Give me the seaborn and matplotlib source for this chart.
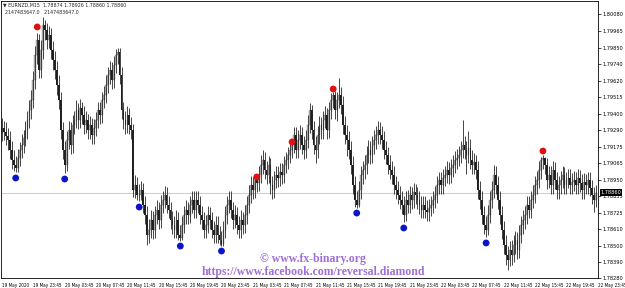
import numpy as np
import pandas as pd
import matplotlib
matplotlib.use("Agg")
import matplotlib.pyplot as plt
import seaborn as sns

# EURNZD M15 candles, prices in points (0.00001) above 1.78000
base = 1.78

open_pts = [
    1270, 1302, 1275, 1248, 1220, 1152, 1084, 1050, 1029, 1097,
    1152, 1186, 1234, 1288, 1357, 1425, 1493, 1629, 1800, 1902,
    1698, 1834, 2004, 1970, 1902, 1936, 1834, 1766, 1698, 1595,
    1493, 1288, 1152, 1050, 1220, 1288, 1186, 1323, 1357, 1425,
    1357, 1438, 1391, 1323, 1357, 1288, 1323, 1254, 1302, 1357,
    1425, 1391, 1493, 1527, 1595, 1664, 1698, 1629, 1732, 1800,
    1820, 1664, 1425, 1357, 1323, 1391, 1323, 1288, 879, 913,
    845, 845, 879, 777, 709, 572, 606, 675, 606, 709,
    743, 675, 777, 811, 845, 777, 743, 675, 641, 606,
    675, 572, 552, 641, 709, 743, 709, 777, 811, 743,
    811, 777, 709, 675, 606, 641, 709, 675, 606, 572,
    641, 572, 538, 511, 606, 709, 777, 811, 743, 675,
    709, 641, 606, 675, 641, 709, 777, 845, 913, 879,
    947, 927, 982, 1050, 1084, 1016, 982, 1050, 913, 879,
    947, 982, 961, 1002, 982, 1050, 1084, 1118, 1152, 1186,
    1254, 1152, 1220, 1254, 1186, 1152, 1220, 1323, 1425, 1288,
    1186, 1152, 1254, 1323, 1288, 1357, 1391, 1288, 1425, 1493,
    1527, 1425, 1493, 1527, 1459, 1323, 1254, 1220, 1152, 1050,
    913, 811, 777, 879, 982, 1016, 1050, 1118, 1152, 1118,
    1186, 1220, 1254, 1288, 1254, 1220, 1152, 1118, 1050, 1016,
    982, 913, 879, 845, 811, 777, 709, 811, 777, 845,
    811, 866, 845, 811, 777, 743, 777, 743, 729, 757,
    777, 811, 845, 913, 947, 913, 961, 982, 1016, 982,
    1029, 1050, 1084, 1097, 1118, 1152, 1186, 1152, 1118, 1166,
    1084, 1050, 1070, 1016, 879, 811, 709, 641, 606, 709,
    811, 879, 982, 913, 811, 709, 606, 504, 436, 402,
    470, 436, 504, 538, 470, 572, 641, 675, 709, 777,
    743, 811, 845, 913, 947, 1016, 1084, 1097, 1050, 947,
    982, 913, 1016, 947, 879, 913, 947, 982, 913, 947,
    961, 913, 934, 947, 913, 961, 927, 879, 934, 913,
    947, 893, 845, 811,
]
high_pts = [
    1370, 1350, 1340, 1300, 1280, 1215, 1150, 1110, 1160, 1205,
    1260, 1290, 1350, 1420, 1495, 1560, 1690, 1860, 1950, 1940,
    1900, 2059, 2040, 2020, 2000, 1985, 1895, 1830, 1760, 1660,
    1550, 1345, 1210, 1280, 1350, 1340, 1390, 1420, 1490, 1470,
    1500, 1480, 1450, 1420, 1400, 1385, 1370, 1365, 1410, 1480,
    1480, 1550, 1590, 1660, 1720, 1760, 1750, 1790, 1840, 1848,
    1845, 1720, 1480, 1420, 1450, 1440, 1380, 1330, 980, 970,
    920, 940, 930, 840, 770, 680, 740, 735, 770, 810,
    800, 845, 870, 905, 900, 840, 800, 735, 700, 740,
    730, 640, 700, 770, 810, 800, 840, 875, 870, 875,
    870, 835, 770, 730, 710, 770, 765, 730, 670, 700,
    700, 635, 600, 670, 770, 840, 875, 870, 800, 775,
    765, 705, 740, 730, 775, 835, 910, 975, 970, 985,
    962, 1045, 1115, 1150, 1140, 1080, 1110, 1100, 975, 1010,
    1045, 1040, 1065, 1060, 1110, 1140, 1170, 1195, 1200, 1310,
    1310, 1285, 1320, 1310, 1250, 1290, 1390, 1473, 1460, 1350,
    1250, 1315, 1385, 1380, 1420, 1450, 1440, 1480, 1540, 1548,
    1555, 1550, 1643, 1580, 1520, 1385, 1320, 1280, 1215, 1110,
    975, 870, 940, 1045, 1080, 1115, 1180, 1220, 1215, 1250,
    1285, 1315, 1350, 1345, 1315, 1280, 1215, 1175, 1115, 1080,
    1040, 975, 940, 905, 870, 835, 870, 880, 905, 900,
    925, 920, 900, 870, 840, 840, 835, 810, 820, 840,
    870, 905, 975, 1005, 1000, 1025, 1045, 1075, 1070, 1090,
    1115, 1145, 1160, 1180, 1210, 1357, 1250, 1210, 1280, 1225,
    1150, 1130, 1120, 1075, 940, 870, 770, 700, 775, 870,
    940, 1050, 1040, 975, 870, 770, 670, 570, 500, 530,
    535, 570, 600, 595, 640, 705, 740, 770, 840, 835,
    875, 910, 975, 1010, 1080, 1105, 1115, 1105, 1100, 1045,
    1040, 1080, 1070, 1005, 975, 1010, 1040, 1035, 1005, 1020,
    1020, 995, 1010, 1005, 1020, 1015, 985, 995, 990, 1005,
    1000, 950, 900, 915,
]
low_pts = [
    1210, 1220, 1185, 1150, 1090, 1020, 1010, 1002, 1005, 1040,
    1095, 1130, 1180, 1230, 1300, 1365, 1440, 1570, 1740, 1640,
    1645, 1775, 1900, 1840, 1845, 1775, 1700, 1635, 1530, 1430,
    1225, 1090, 995, 1010, 1160, 1125, 1130, 1260, 1300, 1295,
    1300, 1330, 1260, 1265, 1225, 1230, 1190, 1195, 1245, 1300,
    1330, 1335, 1435, 1470, 1540, 1605, 1570, 1575, 1675, 1740,
    1600, 1360, 1295, 1260, 1265, 1260, 1225, 830, 825, 810,
    804, 810, 720, 650, 504, 520, 550, 545, 550, 650,
    615, 620, 720, 755, 720, 685, 615, 580, 550, 555,
    540, 531, 540, 585, 650, 650, 655, 720, 685, 690,
    720, 650, 615, 550, 550, 585, 615, 550, 515, 515,
    515, 505, 497, 500, 550, 650, 720, 685, 615, 620,
    580, 550, 550, 580, 585, 650, 720, 790, 820, 825,
    865, 870, 925, 990, 955, 920, 925, 855, 820, 825,
    890, 900, 905, 920, 925, 995, 1025, 1060, 1095, 1130,
    1095, 1095, 1160, 1125, 1090, 1095, 1165, 1265, 1230, 1125,
    1060, 1095, 1195, 1225, 1230, 1300, 1230, 1235, 1365, 1435,
    1365, 1350, 1435, 1400, 1260, 1195, 1110, 1090, 990, 850,
    765, 757, 765, 820, 920, 955, 990, 1060, 1055, 1060,
    1125, 1160, 1195, 1195, 1160, 1090, 1055, 990, 955, 920,
    850, 820, 785, 750, 715, 661, 670, 720, 720, 750,
    755, 785, 750, 715, 685, 685, 685, 665, 670, 700,
    720, 755, 790, 855, 855, 855, 905, 925, 920, 925,
    970, 995, 1025, 1040, 1060, 1095, 1090, 990, 1060, 1020,
    990, 990, 955, 820, 750, 650, 580, 559, 570, 655,
    755, 825, 855, 750, 650, 545, 440, 370, 334, 360,
    370, 385, 445, 410, 415, 515, 580, 615, 650, 685,
    685, 755, 790, 855, 890, 955, 1025, 990, 885, 890,
    850, 855, 885, 820, 820, 855, 890, 855, 855, 890,
    855, 855, 875, 855, 855, 865, 820, 820, 855, 855,
    835, 785, 730, 760,
]
close_pts = [
    1302, 1275, 1248, 1220, 1152, 1084, 1050, 1029, 1097, 1152,
    1186, 1234, 1288, 1357, 1425, 1493, 1629, 1800, 1902, 1698,
    1834, 2004, 1970, 1902, 1936, 1834, 1766, 1698, 1595, 1493,
    1288, 1152, 1050, 1220, 1288, 1186, 1323, 1357, 1425, 1357,
    1438, 1391, 1323, 1357, 1288, 1323, 1254, 1302, 1357, 1425,
    1391, 1493, 1527, 1595, 1664, 1698, 1629, 1732, 1800, 1820,
    1664, 1425, 1357, 1323, 1391, 1323, 1288, 879, 913, 845,
    845, 879, 777, 709, 572, 606, 675, 606, 709, 743,
    675, 777, 811, 845, 777, 743, 675, 641, 606, 675,
    572, 552, 641, 709, 743, 709, 777, 811, 743, 811,
    777, 709, 675, 606, 641, 709, 675, 606, 572, 641,
    572, 538, 511, 606, 709, 777, 811, 743, 675, 709,
    641, 606, 675, 641, 709, 777, 845, 913, 879, 947,
    927, 982, 1050, 1084, 1016, 982, 1050, 913, 879, 947,
    982, 961, 1002, 982, 1050, 1084, 1118, 1152, 1186, 1254,
    1152, 1220, 1254, 1186, 1152, 1220, 1323, 1425, 1288, 1186,
    1152, 1254, 1323, 1288, 1357, 1391, 1288, 1425, 1493, 1527,
    1425, 1493, 1527, 1459, 1323, 1254, 1220, 1152, 1050, 913,
    811, 777, 879, 982, 1016, 1050, 1118, 1152, 1118, 1186,
    1220, 1254, 1288, 1254, 1220, 1152, 1118, 1050, 1016, 982,
    913, 879, 845, 811, 777, 709, 811, 777, 845, 811,
    866, 845, 811, 777, 743, 777, 743, 729, 757, 777,
    811, 845, 913, 947, 913, 961, 982, 1016, 982, 1029,
    1050, 1084, 1097, 1118, 1152, 1186, 1152, 1118, 1166, 1084,
    1050, 1070, 1016, 879, 811, 709, 641, 606, 709, 811,
    879, 982, 913, 811, 709, 606, 504, 436, 402, 470,
    436, 504, 538, 470, 572, 641, 675, 709, 777, 743,
    811, 845, 913, 947, 1016, 1084, 1097, 1050, 947, 982,
    913, 1016, 947, 879, 913, 947, 982, 913, 947, 961,
    913, 934, 947, 913, 961, 927, 879, 934, 913, 947,
    893, 845, 811, 860,
]

# reversal signals: bar index and dot level (points above 1.78)
sell_bars = [18, 130, 148, 169, 276]
sell_pts = [1991, 968, 1207, 1568, 1145]
buy_bars = [7, 32, 70, 91, 112, 181, 205, 247]
buy_pts = [961, 954, 763, 497, 463, 722, 620, 518]

price_ticks = [1.80080, 1.79965, 1.79850, 1.79740, 1.79620, 1.79515, 1.79400,
               1.79290, 1.79175, 1.79065, 1.78950, 1.78835, 1.78725, 1.78610,
               1.78500, 1.78390, 1.78280]
time_labels = ["19 May 2020", "19 May 23:45", "20 May 03:45", "20 May 07:45",
               "20 May 11:45", "20 May 15:45", "20 May 19:45", "20 May 23:45",
               "21 May 03:45", "21 May 07:45", "21 May 11:45", "21 May 15:45",
               "21 May 19:45", "21 May 23:45", "22 May 03:45", "22 May 07:45",
               "22 May 11:45", "22 May 15:45", "22 May 19:45", "22 May 23:45"]

df = pd.DataFrame({
    "open": base + np.array(open_pts) / 1e5,
    "high": base + np.array(high_pts) / 1e5,
    "low": base + np.array(low_pts) / 1e5,
    "close": base + np.array(close_pts) / 1e5,
})
df["bar"] = np.arange(len(df))

sns.set_style("white")
plt.rcParams["font.family"] = ["DejaVu Sans"]

fig = plt.figure(figsize=(6.25, 2.88), dpi=100)
ax = fig.add_axes([1 / 625, 10 / 288, 597 / 625, 277 / 288])

# wicks
ax.vlines(df["bar"], df["low"], df["high"], color="#262626", lw=0.6)
# bodies
up = df["close"] >= df["open"]
body_lo = np.minimum(df["open"], df["close"])
body_h = np.maximum(np.abs(df["close"] - df["open"]), 0.00003)
ax.bar(df["bar"][up], body_h[up], bottom=body_lo[up], width=0.9,
       color="#b4b4b4", edgecolor="#505050", linewidth=0.2)
ax.bar(df["bar"][~up], body_h[~up], bottom=body_lo[~up], width=0.9,
       color="#1e1e1e", edgecolor="none")

# bid line
last = df["close"].iloc[-1]
ax.axhline(last, color="#c4c4c4", lw=0.6, zorder=0)

sig = pd.DataFrame({
    "bar": sell_bars + buy_bars,
    "price": list(base + np.array(sell_pts) / 1e5) + list(base + np.array(buy_pts) / 1e5),
    "kind": ["sell"] * len(sell_bars) + ["buy"] * len(buy_bars),
})
sns.scatterplot(data=sig, x="bar", y="price", hue="kind",
                palette={"sell": "#e01010", "buy": "#0a14c8"},
                s=24, edgecolor="none", legend=False, ax=ax, zorder=5)

ax.set_xlim(-0.5, 304.1)
ax.set_ylim(1.78279, 1.80168)
ax.set_xlabel("")
ax.set_ylabel("")

ax.yaxis.tick_right()
ax.set_yticks(price_ticks)
ax.set_yticklabels([f"{v:.5f}" for v in price_ticks])
ax.tick_params(axis="y", direction="out", length=2, width=0.5, labelsize=3.6,
               pad=1.5, colors="black")
ax.set_xticks(np.arange(0, 16 * len(time_labels), 16))
ax.set_xticklabels(time_labels, ha="left")
ax.tick_params(axis="x", direction="out", length=2.5, width=0.5, labelsize=3.3,
               pad=1.2, colors="black")
for lbl in ax.get_xticklabels():
    lbl.set_fontstretch("condensed")
for sp in ax.spines.values():
    sp.set_color("black")
    sp.set_linewidth(0.6)

ax.text(1.004, last, f"{last:.5f}", transform=ax.get_yaxis_transform(),
        fontsize=3.6, color="white", va="center", ha="left",
        bbox=dict(facecolor="black", edgecolor="none", pad=0.6))

ax.text(2 / 597, 1 - 4 / 277, "\u25bc EURNZD,M15  1.78874 1.78926 1.78860 1.78860",
        transform=ax.transAxes, fontsize=3.4, va="center", ha="left")
ax.text(4 / 597, 1 - 11 / 277, "2147483647.0   2147483647.0",
        transform=ax.transAxes, fontsize=3.4, va="center", ha="left")

wm = dict(family=["Liberation Serif", "DejaVu Serif"], fontweight="bold",
          fontsize=8.5, color="#9f6fd6", ha="center", va="center")
fig.text(313 / 625, 1 - 259 / 288, "\u00a9 www.fx-binary.org", **wm)
fig.text(313 / 625, 1 - 272 / 288, "https://www.facebook.com/reversal.diamond", **wm)

fig.savefig("out.png", dpi=100)
